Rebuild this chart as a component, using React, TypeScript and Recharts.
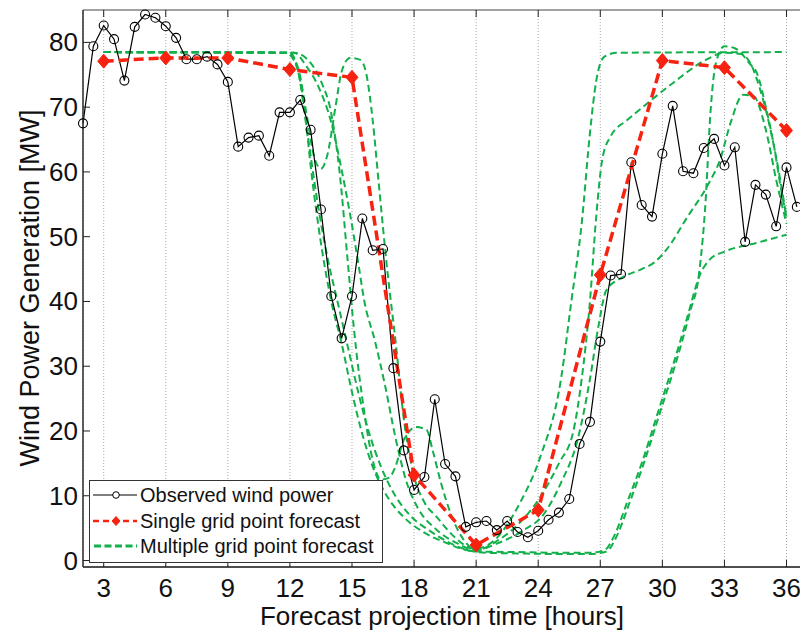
import React from 'react';
import { LineChart, Line, XAxis, YAxis, CartesianGrid, ReferenceArea, Label } from 'recharts';

// Observed wind power, half-hourly
const observedHours = [
  2, 2.5, 3, 3.5, 4, 4.5, 5, 5.5, 6, 6.5, 7, 7.5, 8, 8.5, 9, 9.5, 10, 10.5, 11, 11.5,
  12, 12.5, 13, 13.5, 14, 14.5, 15, 15.5, 16, 16.5, 17, 17.5, 18, 18.5, 19, 19.5, 20, 20.5,
  21, 21.5, 22, 22.5, 23, 23.5, 24, 24.5, 25, 25.5, 26, 26.5, 27, 27.5, 28, 28.5, 29, 29.5,
  30, 30.5, 31, 31.5, 32, 32.5, 33, 33.5, 34, 34.5, 35, 35.5, 36, 36.5,
];
const observedMW = [
  67.5, 79.4, 82.6, 80.5, 74.1, 82.4, 84.3, 83.8, 82.5,
  80.7, 77.4, 77.4, 77.8, 76.6, 73.9, 63.9, 65.3, 65.6,
  62.5, 69.2, 69.2, 71.1, 66.5, 54.2, 40.8, 34.3, 40.8,
  52.8, 47.9, 48.1, 29.7, 17.0, 10.9, 12.9, 24.9, 14.9,
  13.0, 5.2, 5.9, 6.1, 4.7, 6.1, 4.4, 3.6, 4.6,
  6.3, 7.4, 9.5, 18.0, 21.4, 33.8, 44.0, 44.2, 61.5,
  54.9, 53.1, 62.8, 70.2, 60.1, 59.8, 63.7, 65.1, 61.0,
  63.8, 49.2, 58.0, 56.5, 51.6, 60.7, 54.6,
];

// Single grid point forecast, 3-hourly
const singleHours = [3, 6, 9, 12, 15, 18, 21, 24, 27, 30, 33, 36];
const singleMW = [77.1, 77.6, 77.6, 75.8, 74.6, 13.2, 2.4, 7.8, 44.1, 77.2, 76.1, 66.4];

// Multiple grid point forecast members: [hour, MW]
const member1 = [
  [3, 78.5], [11.8, 78.4], [12.3, 76.5], [12.7, 70], [13.0, 61], [13.5, 49], [14, 40], [14.5, 33.5],
  [15, 26], [15.5, 19.5], [16, 14.5], [16.5, 11], [17, 8.5], [17.5, 6.7], [18.5, 4.3], [19.5, 2.8],
  [20.4, 1.7], [21, 1.4], [23, 1.3], [25, 1.2], [26.5, 1.2], [27.2, 1.6], [27.7, 4], [28.3, 9],
  [29, 15], [29.8, 23], [30.5, 30], [31.2, 37.5], [31.8, 44], [32.3, 46.5], [33, 47.7], [34.5, 49],
  [36, 50.3],
];
const member2 = [
  [3, 78.5], [11.9, 78.4], [12.4, 76], [12.8, 69], [13.2, 62], [13.5, 60.5], [13.8, 62.5], [14.2, 70],
  [14.5, 75.5], [14.9, 77.6], [15.4, 77.3], [15.7, 75], [16, 68], [16.3, 58], [16.7, 45], [17.1, 34],
  [17.5, 22], [18, 13], [18.5, 9], [19.1, 6.7], [20, 3.5], [20.9, 1.8], [21.3, 2], [22, 3.5],
  [23.1, 8.8], [24.1, 16], [25.1, 28], [25.6, 40], [26.1, 52], [26.5, 66], [26.8, 74], [27.2, 77.8],
  [27.8, 78.4], [36, 78.5],
];
const member3 = [
  [3, 78.5], [12.2, 78.4], [12.8, 76.3], [13.4, 73], [14, 67.6], [14.5, 60.3], [14.9, 53.6], [15.3, 46],
  [15.6, 40], [16.1, 34], [16.6, 27], [17.1, 19], [17.6, 12.5], [18.2, 8], [19, 5], [20, 2.8],
  [21, 1.6], [22, 3], [23, 5.5], [24.1, 9.8], [25, 15], [25.7, 20], [26.1, 28], [26.5, 40],
  [26.8, 53], [27.1, 62], [27.5, 65.5], [28.3, 68], [28.9, 69.6], [30.5, 73.7], [32.1, 77.3], [33, 78.4],
  [33.8, 78.2], [34.3, 76.5], [34.7, 73], [35.4, 63.9], [36, 53],
];
const member4 = [
  [3, 78.5], [12.2, 78.4], [12.8, 77.5], [13.5, 74], [14, 69], [14.4, 60], [14.8, 46], [15.1, 35.6],
  [15.6, 22.8], [16, 15.5], [16.4, 12.5], [16.8, 12.8], [17.1, 14.5], [17.5, 18.6], [18.1, 20.6], [18.6, 20.2],
  [18.9, 17], [19.3, 12], [19.8, 7], [20.4, 3.2], [21, 1.6], [22, 2.6], [23.2, 4.5], [24.3, 7.3],
  [25.1, 12], [25.9, 18.6], [26.5, 28], [26.9, 36], [27.3, 41.8], [28, 43.6], [29, 45], [29.6, 46],
  [30.2, 48], [31.2, 53], [32.2, 58], [32.8, 62], [33.3, 67.6], [33.9, 71.9], [34.4, 71.7], [35, 66.5],
  [35.5, 58.8], [36, 52],
];
const member5 = [
  [3, 78.5], [12, 78.4], [12.4, 75.5], [12.8, 67], [13.3, 56], [13.8, 47], [14.3, 40], [14.8, 33],
  [15.3, 26], [15.8, 20], [16.4, 14.5], [17, 10.5], [17.8, 7], [18.8, 4.5], [19.8, 2.6], [20.6, 1.6],
  [21.5, 1.2], [23, 1.1], [25, 1.0], [26.5, 1.0], [27.3, 1.4], [27.8, 3.8], [28.4, 8.8], [29.1, 15],
  [29.9, 23], [30.6, 30], [31.3, 38], [31.8, 45], [32.1, 56], [32.3, 68], [32.6, 77], [33, 79.4],
  [33.5, 79.1], [34.2, 76.8], [34.6, 75], [35, 70], [35.4, 63.9], [35.7, 58], [36, 53],
];
const ensembleMembers = [member1, member2, member3, member4, member5];

const hourTicks = [3, 6, 9, 12, 15, 18, 21, 24, 27, 30, 33, 36];
const mwTicks = [0, 10, 20, 30, 40, 50, 60, 70, 80];
const rightTicks = [0, 10, 20, 30, 40, 50, 60, 70, 80];

const legendLabels = ['Observed wind power', 'Single grid point forecast', 'Multiple grid point forecast'];

// Layout
const CHART_W = 802;
const CHART_H = 632;
const PLOT_LEFT = 83;
const PLOT_TOP = 10;
const PLOT_BOTTOM = 567;
const PLOT_RIGHT = 801;
const TICK_LEN = 7;

const RED = '#f7220f';
const GREEN = '#11b04b';
const FONT = '"Liberation Sans", Arial, Helvetica, sans-serif';

const observedPts = observedHours.map((h, i) => ({ x: h, y: observedMW[i] }));
const singlePts = singleHours.map((h, i) => ({ x: h, y: singleMW[i] }));
const memberPts = ensembleMembers.map((m) => m.map(([h, v]) => ({ x: h, y: v })));

const BottomTick = (props: any) => {
  const { x, payload } = props;
  return (
    <g>
      <line x1={x} x2={x} y1={PLOT_BOTTOM} y2={PLOT_BOTTOM - TICK_LEN} stroke="#222" strokeWidth={1} />
      <line x1={x} x2={x} y1={PLOT_TOP} y2={PLOT_TOP + TICK_LEN} stroke="#222" strokeWidth={1} />
      <text x={x} y={597} textAnchor="middle" fontSize={26} fontFamily={FONT} fill="#111">
        {payload.value}
      </text>
    </g>
  );
};

const LeftTick = (props: any) => {
  const { y, payload } = props;
  return (
    <g>
      <line x1={PLOT_LEFT} x2={PLOT_LEFT + TICK_LEN} y1={y} y2={y} stroke="#222" strokeWidth={1} />
      <text x={78} y={y + 9} textAnchor="end" fontSize={26} fontFamily={FONT} fill="#111">
        {payload.value}
      </text>
    </g>
  );
};

const RightTick = (props: any) => {
  const { y } = props;
  return <line x1={PLOT_RIGHT} x2={PLOT_RIGHT - TICK_LEN} y1={y} y2={y} stroke="#222" strokeWidth={1} />;
};

const Diamond = (props: any) => {
  const { cx, cy, index } = props;
  if (cx == null || cy == null) return <g key={`d-${index}`} />;
  return (
    <path
      key={`d-${index}`}
      d={`M${cx},${cy - 7}L${cx + 6},${cy}L${cx},${cy + 7}L${cx - 6},${cy}Z`}
      fill={RED}
      stroke={RED}
      strokeWidth={1}
    />
  );
};

const LegendBox = () => (
  <div
    style={{
      position: 'absolute',
      left: 89,
      top: 480,
      width: 294,
      height: 83,
      boxSizing: 'border-box',
      border: '1px solid #333',
      background: '#fff',
    }}
  >
    <svg width={292} height={81} style={{ display: 'block' }}>
      {/* observed */}
      <line x1={3} x2={47} y1={14} y2={14} stroke="#000" strokeWidth={1.2} />
      <circle cx={26} cy={14} r={3.3} fill="#fff" stroke="#000" strokeWidth={1} />
      <text x={50} y={21} fontSize={20} fontFamily={FONT} fill="#111">{legendLabels[0]}</text>
      {/* single */}
      <line x1={3} x2={47} y1={40} y2={40} stroke={RED} strokeWidth={2.5} strokeDasharray="6 4" />
      <path d="M26,35.5L30,40L26,44.5L22,40Z" fill={RED} stroke={RED} strokeWidth={1} />
      <text x={50} y={47} fontSize={20} fontFamily={FONT} fill="#111">{legendLabels[1]}</text>
      {/* multiple */}
      <line x1={4} x2={47} y1={65} y2={65} stroke={GREEN} strokeWidth={3} strokeDasharray="7 3.5" />
      <text x={50} y={72} fontSize={20} fontFamily={FONT} fill="#111">{legendLabels[2]}</text>
    </svg>
  </div>
);

export default function App() {
  return (
    <div style={{ position: 'absolute', left: 0, top: 0, width: 800, height: 632, overflow: 'hidden', background: '#fff' }}>
      <LineChart width={CHART_W} height={CHART_H} margin={{ top: PLOT_TOP, right: 1, left: 0, bottom: 0 }}>
        <CartesianGrid vertical horizontal={false} stroke="#a8a8a8" strokeDasharray="1 2" />
        <XAxis
          type="number"
          dataKey="x"
          domain={[2, 36.7]}
          ticks={hourTicks}
          interval={0}
          height={CHART_H - PLOT_BOTTOM}
          tickLine={false}
          axisLine={{ stroke: '#333', strokeWidth: 1.5 }}
          tick={<BottomTick />}
        >
          <Label
            content={() => (
              <text x={442} y={625} textAnchor="middle" fontSize={26} fontFamily={FONT} fill="#111">
                Forecast projection time [hours]
              </text>
            )}
          />
        </XAxis>
        <YAxis
          type="number"
          domain={[-1, 85]}
          ticks={mwTicks}
          interval={0}
          width={PLOT_LEFT}
          tickLine={false}
          axisLine={{ stroke: '#333', strokeWidth: 1.2 }}
          tick={<LeftTick />}
        >
          <Label
            content={() => (
              <text
                x={39}
                y={288}
                transform="rotate(-90, 39, 288)"
                textAnchor="middle"
                fontSize={27}
                fontFamily={FONT}
                fill="#111"
              >
                Wind Power Generation [MW]
              </text>
            )}
          />
        </YAxis>
        <YAxis
          yAxisId="right"
          orientation="right"
          type="number"
          domain={[-0.5, 81]}
          ticks={rightTicks}
          interval={0}
          width={0}
          tickLine={false}
          axisLine={{ stroke: '#333' }}
          tick={<RightTick />}
        />
        <ReferenceArea x1={2} x2={36.7} y1={-1} y2={85} fill="none" fillOpacity={0} stroke="#444" strokeWidth={1} />

        {memberPts.map((pts, i) => (
          <Line
            key={`member-${i}`}
            data={pts}
            dataKey="y"
            type="monotone"
            stroke={GREEN}
            strokeWidth={2}
            strokeDasharray="7 4"
            dot={false}
            activeDot={false}
            isAnimationActive={false}
          />
        ))}
        <Line
          data={observedPts}
          dataKey="y"
          type="linear"
          stroke="#000"
          strokeWidth={1.2}
          dot={{ r: 4.5, stroke: '#000', strokeWidth: 1.1, fill: 'none' }}
          activeDot={false}
          isAnimationActive={false}
        />
        <Line
          data={singlePts}
          dataKey="y"
          type="linear"
          stroke={RED}
          strokeWidth={3.5}
          strokeDasharray="10 5"
          dot={<Diamond />}
          activeDot={false}
          isAnimationActive={false}
        />
      </LineChart>
      <LegendBox />
    </div>
  );
}
